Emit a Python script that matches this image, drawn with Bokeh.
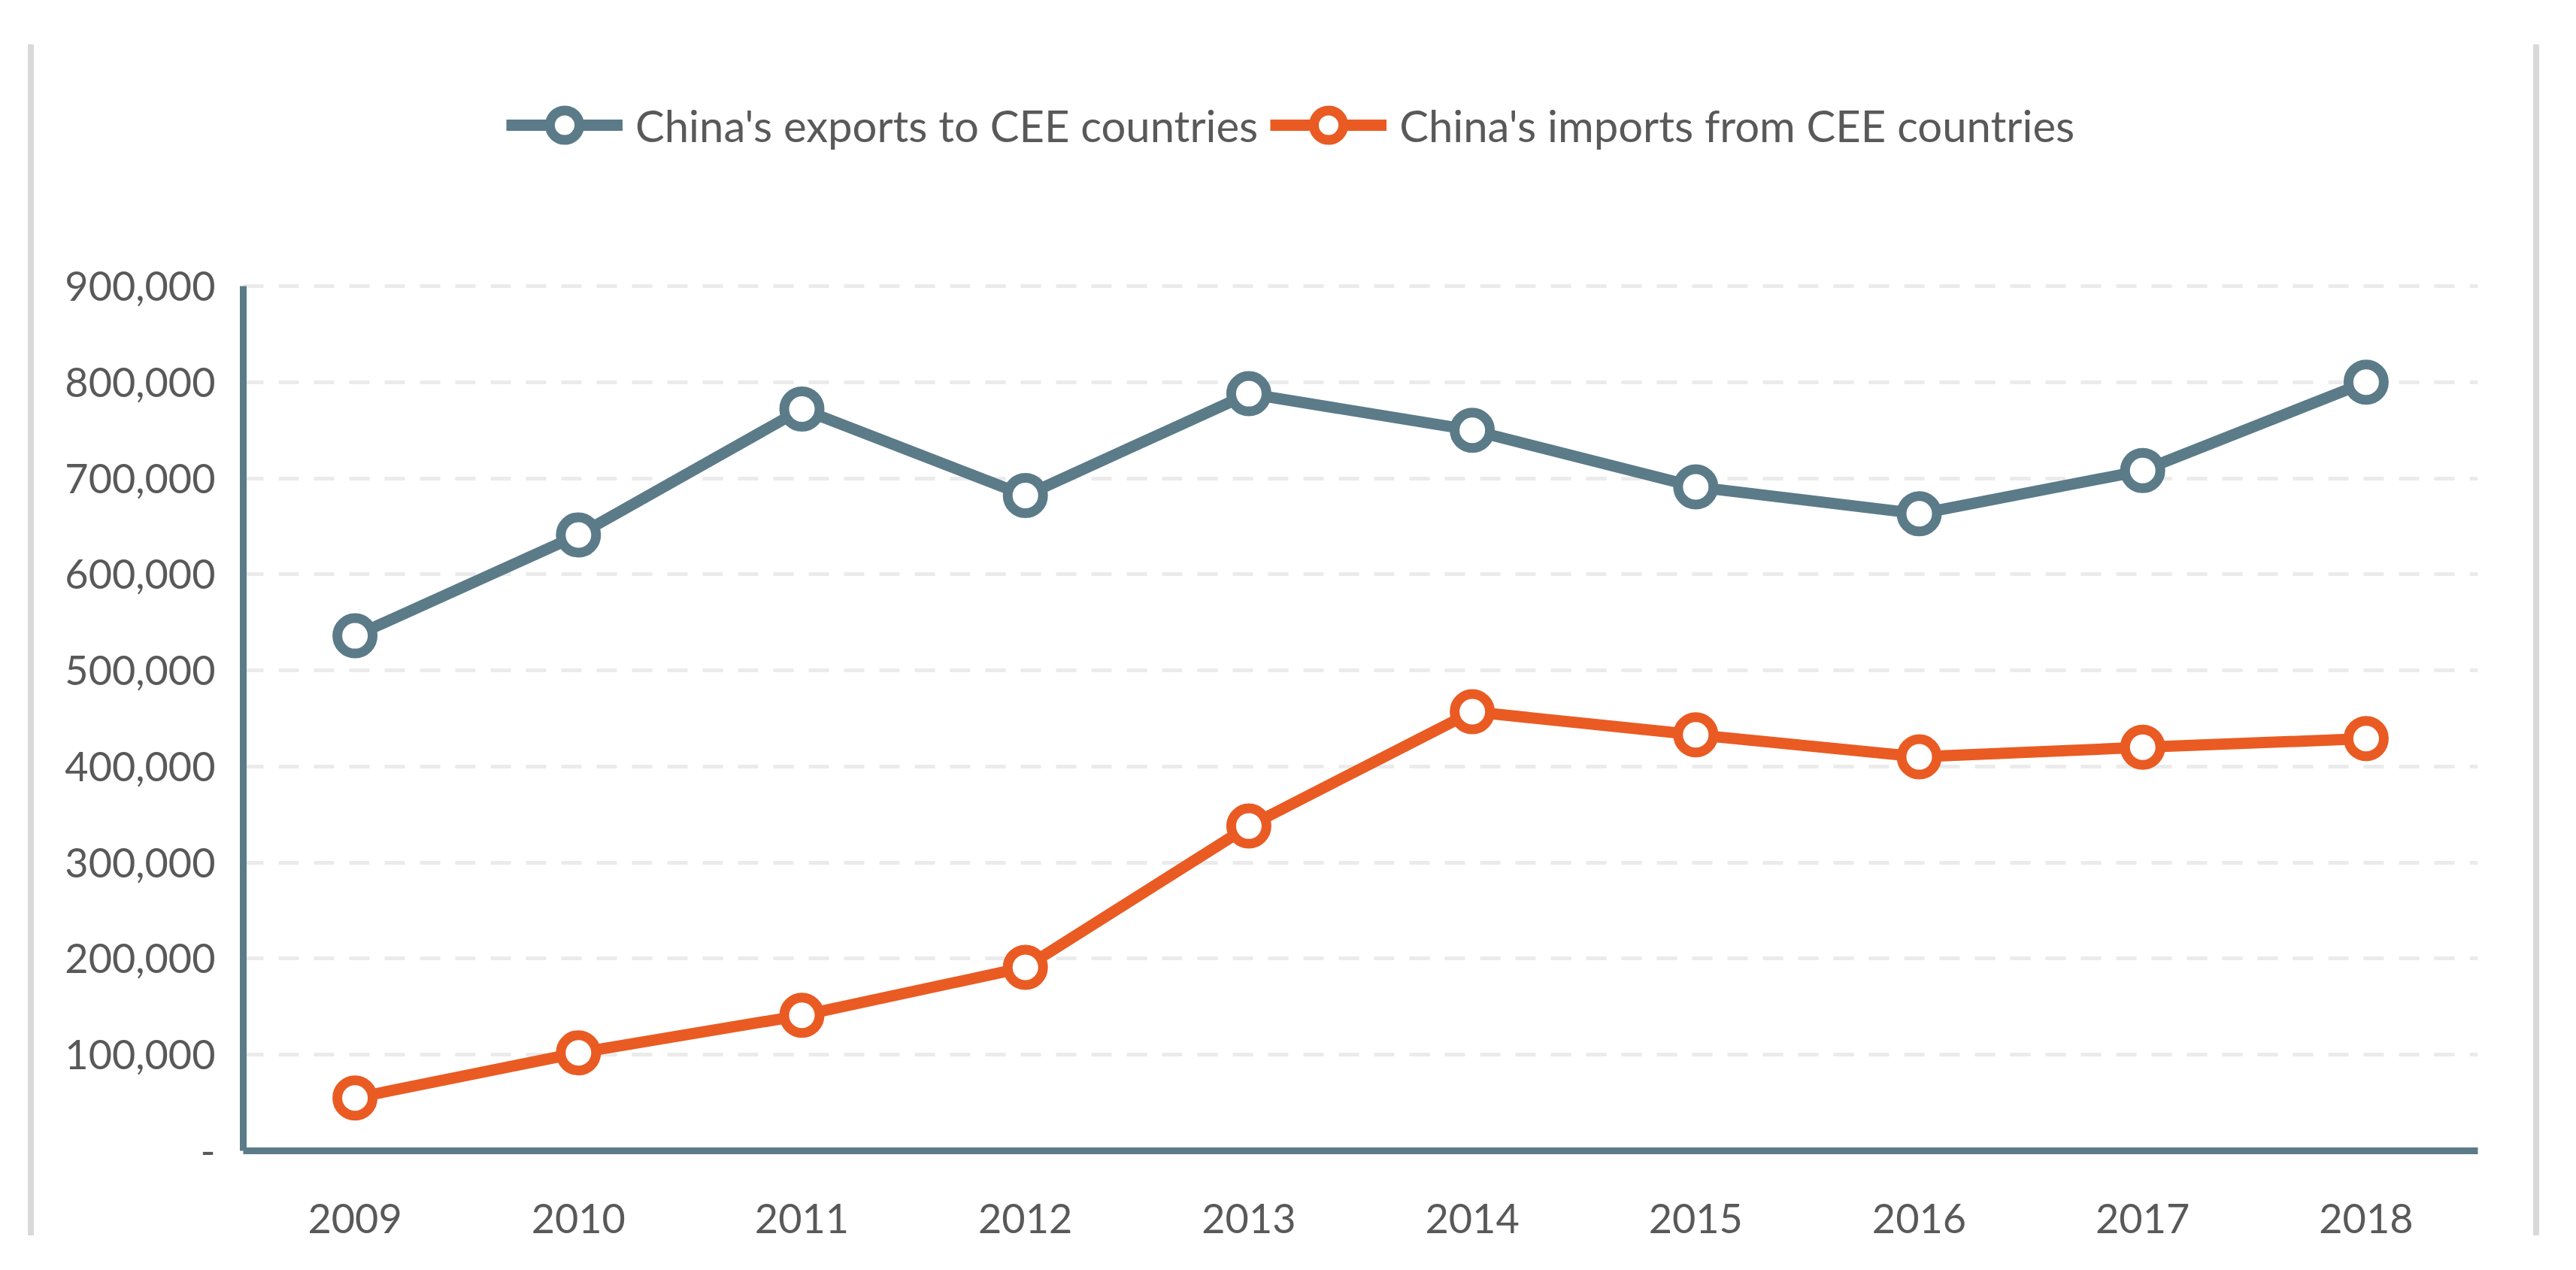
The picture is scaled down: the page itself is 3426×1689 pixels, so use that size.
from bokeh.plotting import figure
from bokeh.models import Range1d, FixedTicker, NumeralTickFormatter, Legend, LegendItem
from bokeh.embed import file_html
from bokeh.resources import INLINE

# ---- data ----
years = ["2009", "2010", "2011", "2012", "2013", "2014", "2015", "2016", "2017", "2018"]
exports = [536000, 641000, 772000, 682000, 788000, 750000, 691000, 663000, 708000, 800000]
imports = [55000, 102000, 141000, 191000, 338000, 457000, 433000, 410000, 420000, 429000]
series_names = ["China's exports to CEE countries", "China's imports from CEE countries"]
y_ticks = [0, 100000, 200000, 300000, 400000, 500000, 600000, 700000, 800000, 900000]
y_tick_labels = ["-", "100,000", "200,000", "300,000", "400,000", "500,000",
                 "600,000", "700,000", "800,000", "900,000"]
y_axis_max = 900000

# ---- styles / layout ----
C_EXP = "#5B7B89"
C_IMP = "#E95B23"
TXT = "#595959"
FONT = "Lato"
FS = "54px"
FS_LEG = "58px"

CANVAS_W, CANVAS_H = 3324, 1613
BORDER = 8
BORDER_LEN = 1583
MB_LEFT, MB_RIGHT, MB_TOP, MB_BOTTOM = 278, 90, 0, 142
AXIS_TOP_PX = 321          # canvas y of the 900,000 line
frame_h = CANVAS_H - MB_TOP - MB_BOTTOM
plot_h = CANVAS_H - MB_BOTTOM - AXIS_TOP_PX
y_end = y_axis_max * frame_h / plot_h   # extra room above the axis for the legend

p = figure(x_range=years, y_range=Range1d(0, y_end),
           width=CANVAS_W + 2 * BORDER, height=CANVAS_H,
           output_backend="svg", toolbar_location=None,
           min_border_left=MB_LEFT, min_border_right=MB_RIGHT,
           min_border_top=MB_TOP, min_border_bottom=MB_BOTTOM)
p.styles = {
    "border-left": f"{BORDER}px solid #d9d9d9",
    "border-right": f"{BORDER}px solid #d9d9d9",
    "border-image": f"linear-gradient(to bottom, #d9d9d9 {BORDER_LEN}px, "
                    f"rgba(255,255,255,0) {BORDER_LEN}px) 1",
}
p.margin = (59, 0, 0, 37)

p.outline_line_color = None
p.background_fill_color = "white"
p.border_fill_color = "white"

p.xgrid.grid_line_color = None
p.ygrid.grid_line_color = "#ebebeb"
p.ygrid.grid_line_width = 5
p.ygrid.grid_line_dash = "27 20"

p.yaxis.ticker = FixedTicker(ticks=y_ticks)
p.yaxis.formatter = NumeralTickFormatter(format="0,0")
p.yaxis.major_label_overrides = {t: l for t, l in zip(y_ticks, y_tick_labels)}
p.yaxis.bounds = (0, y_axis_max)

for ax in (p.xaxis[0], p.yaxis[0]):
    ax.axis_line_color = C_EXP
    ax.axis_line_width = 9
    ax.major_tick_line_color = None
    ax.minor_tick_line_color = None
    ax.major_tick_out = 0
    ax.major_tick_in = 0
    ax.major_label_text_font = FONT
    ax.major_label_text_font_size = FS
    ax.major_label_text_color = TXT
p.xaxis.major_label_standoff = 70
p.yaxis.major_label_standoff = 37

r1 = p.line(years, exports, line_color=C_EXP, line_width=15, line_join="round")
s1 = p.scatter(years, exports, marker="circle", size=47, line_color=C_EXP,
               line_width=13, fill_color="white")
r2 = p.line(years, imports, line_color=C_IMP, line_width=15, line_join="round")
s2 = p.scatter(years, imports, marker="circle", size=47, line_color=C_IMP,
               line_width=13, fill_color="white")

legend = Legend(items=[LegendItem(label=series_names[0], renderers=[r1, s1]),
                       LegendItem(label=series_names[1], renderers=[r2, s2])],
                orientation="horizontal", location=(350, 1315),
                glyph_width=155, glyph_height=98, label_standoff=17, spacing=16,
                margin=0, padding=0, border_line_color=None,
                background_fill_alpha=0,
                label_text_font=FONT, label_text_font_size=FS_LEG,
                label_text_color=TXT)
p.add_layout(legend)

open("out.html", "w").write(file_html(p, INLINE))
